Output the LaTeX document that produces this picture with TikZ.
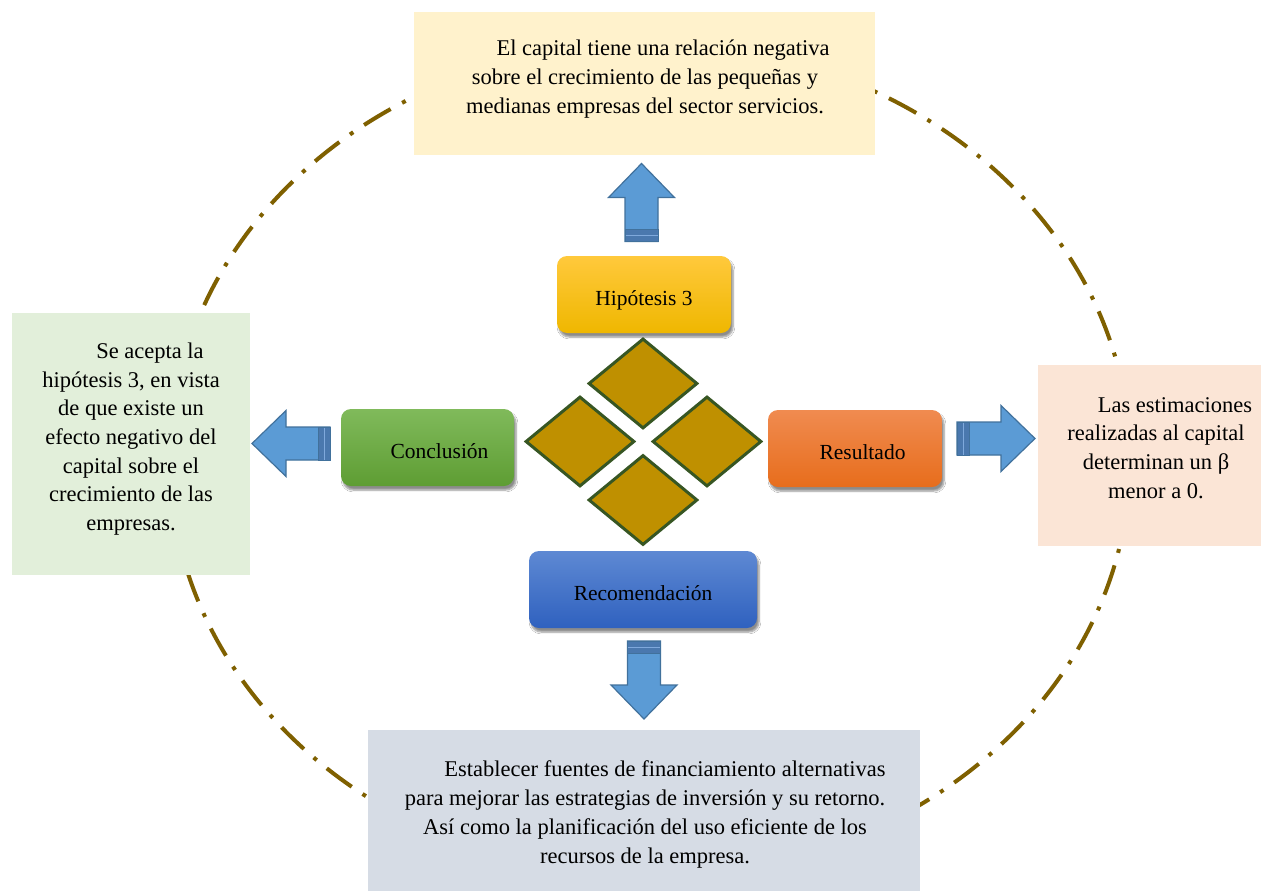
\documentclass[tikz,border=0pt]{standalone}
\usepackage{fontspec}
\setmainfont{Liberation Serif}
\usetikzlibrary{shapes.geometric,shadows.blur}

\definecolor{ringcol}{HTML}{7F6000}
\definecolor{topfill}{HTML}{FFF2CC}
\definecolor{leftfill}{HTML}{E2EFDA}
\definecolor{rightfill}{HTML}{FBE5D6}
\definecolor{bottomfill}{HTML}{D6DCE5}
\definecolor{gemfill}{HTML}{BF9000}
\definecolor{gemline}{HTML}{375623}
\definecolor{arrowfill}{HTML}{5B9BD5}
\definecolor{arrowline}{HTML}{41719C}
\definecolor{stripefill}{HTML}{4A78AE}
\definecolor{stripeline}{HTML}{7FA9DC}
\definecolor{goldtop}{HTML}{FFC93C}
\definecolor{goldbot}{HTML}{EFB700}
\definecolor{greentop}{HTML}{80BA5B}
\definecolor{greenbot}{HTML}{5E9D33}
\definecolor{orangetop}{HTML}{F08B50}
\definecolor{orangebot}{HTML}{E76D1C}
\definecolor{bluetop}{HTML}{5E89D3}
\definecolor{bluebot}{HTML}{2F61BF}

\tikzset{
  ring/.style={draw=ringcol, line width=4pt, dash pattern=on 31pt off 13pt on 4pt off 13pt},
  infobox/.style={rectangle, inner sep=0pt},
  bodytext/.style={align=center, inner sep=0pt, text=black,
    font=\fontsize{22.5}{28.7}\selectfont},
  label/.style={rectangle, rounded corners=10pt, inner sep=0pt,
    minimum height=77pt, text height=24pt, text depth=2pt,
    text=black, font=\fontsize{21.5}{26}\selectfont,
    blur shadow={shadow xshift=2pt, shadow yshift=-4pt, shadow blur steps=6, shadow opacity=45}},
  gem/.style={diamond, draw=gemline, fill=gemfill, line width=3pt,
    minimum width=109pt, minimum height=90pt, inner sep=0pt},
  pics/blockarrow/.style={code={
    \path[fill=arrowfill, draw=arrowline, line width=1.2pt]
      (0,-16.5) -- (44,-16.5) -- (44,-33) -- (78,0) -- (44,33) -- (44,16.5) -- (0,16.5) -- cycle;
    \path[fill=stripefill, draw=arrowline, line width=0.8pt] (0,-16.5) rectangle (12,16.5);
    \draw[stripeline, line width=1pt] (6,-16) -- (6,16);
  }}
}

\begin{document}
\begin{tikzpicture}[x=1pt, y=-1pt]
  \useasboundingbox (0,0) rectangle (1261,891);
  \fill[white] (0,0) rectangle (1261,891);

  % dash-dot ring behind everything
  \draw[ring] (650,460) ellipse [x radius=480pt, y radius=417pt];

  % text panels
  \node[infobox, fill=topfill, minimum width=461pt, minimum height=143pt] (topbox) at (644.5,83.5) {};
  \node[infobox, fill=leftfill, minimum width=238pt, minimum height=262pt] (leftbox) at (131,444) {};
  \node[infobox, fill=rightfill, minimum width=223pt, minimum height=181pt] (rightbox) at (1149.5,455.5) {};
  \node[infobox, fill=bottomfill, minimum width=552pt, minimum height=161pt] (bottombox) at (644,810.5) {};

  \node[bodytext] (toptext) at (645,79)
    {\hspace*{36pt}El capital tiene una relación negativa\\
     sobre el crecimiento de las pequeñas y\\
     medianas empresas del sector servicios.};
  \node[bodytext] (lefttext) at (131,439)
    {\hspace*{38pt}Se acepta la\\
     hipótesis 3, en vista\\
     de que existe un\\
     efecto negativo del\\
     capital sobre el\\
     crecimiento de las\\
     empresas.};
  \node[bodytext] (righttext) at (1156,448)
    {\hspace*{38pt}Las estimaciones\\
     realizadas al capital\\
     determinan un β\\
     menor a 0.};
  \node[bodytext] (bottomtext) at (645,814.5)
    {\hspace*{40pt}Establecer fuentes de financiamiento alternativas\\
     para mejorar las estrategias de inversión y su retorno.\\
     Así como la planificación del uso eficiente de los\\
     recursos de la empresa.};

  % central diamonds
  \node[gem] (gemtop) at (643,383.5) {};
  \node[gem] (gemleft) at (580,441.5) {};
  \node[gem] (gemright) at (707,441.5) {};
  \node[gem] (gembottom) at (643,500) {};

  % rounded labels
  \node[label, minimum width=174pt, top color=goldtop, bottom color=goldbot] (hyp) at (644,294.5) {Hipótesis 3};
  \node[label, minimum width=173pt, top color=greentop, bottom color=greenbot] (concl) at (427.5,447.5) {\hspace*{24pt}Conclusión};
  \node[label, minimum width=174pt, top color=orangetop, bottom color=orangebot] (result) at (855,448.5) {\hspace*{15pt}Resultado};
  \node[label, minimum width=228pt, top color=bluetop, bottom color=bluebot] (recom) at (643,589.5) {Recomendación};

  % block arrows from the labels towards their panels
  \pic[rotate=90] at (641.5,241.5) {blockarrow};
  \pic[rotate=180] at (330,443.5) {blockarrow};
  \pic at (957,438.5) {blockarrow};
  \pic[rotate=-90] at (644,641) {blockarrow};
\end{tikzpicture}
\end{document}
